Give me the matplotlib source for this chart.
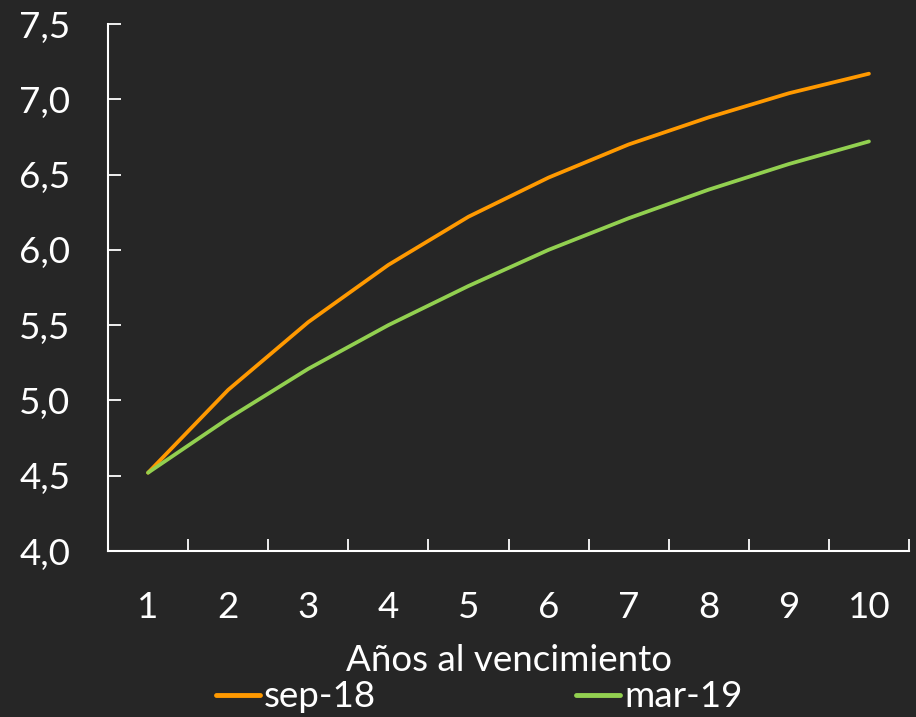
import matplotlib
matplotlib.use("Agg")
import matplotlib.pyplot as plt
from matplotlib.ticker import FixedLocator, FuncFormatter

years = [1, 2, 3, 4, 5, 6, 7, 8, 9, 10]
sep18 = [4.52, 5.07, 5.52, 5.90, 6.22, 6.48, 6.70, 6.88, 7.04, 7.17]
mar19 = [4.52, 4.88, 5.21, 5.50, 5.76, 6.00, 6.21, 6.40, 6.57, 6.72]
yticks = [4.0, 4.5, 5.0, 5.5, 6.0, 6.5, 7.0, 7.5]
xlabel = "Años al vencimiento"
series_names = ["sep-18", "mar-19"]

BG = "#262626"
FG = "white"
FS = 26.5
plt.rcParams['font.family'] = ['Lato', 'DejaVu Sans']

fig = plt.figure(figsize=(9.16, 7.17), dpi=100, facecolor=BG)
ax = fig.add_axes([108/916, 166/717, (909-108)/916, (551-24)/717])
ax.set_facecolor(BG)

ax.plot(years, sep18, color="#FF9900", lw=2.7, solid_capstyle="round", label=series_names[0])
ax.plot(years, mar19, color="#92D050", lw=2.7, solid_capstyle="round", label=series_names[1])

ax.set_xlim(0.5, 10.5)
ax.set_ylim(4.0, 7.5)
ax.set_yticks(yticks)
ax.yaxis.set_major_formatter(FuncFormatter(lambda v, p: f"{v:.1f}".replace(".", ",")))

ax.xaxis.set_major_locator(FixedLocator([x + 0.5 for x in range(0, 11)]))
ax.xaxis.set_major_formatter(FuncFormatter(lambda v, p: ""))
ax.xaxis.set_minor_locator(FixedLocator(years))
ax.xaxis.set_minor_formatter(FuncFormatter(lambda v, p: f"{int(v)}"))

ax.tick_params(axis='x', which='major', direction='in', length=9, width=1.3, colors=FG)
ax.tick_params(axis='x', which='minor', length=0, pad=29, labelsize=FS, labelcolor=FG)
ax.tick_params(axis='y', which='major', direction='in', length=9, width=1.3, colors=FG,
               labelsize=FS, pad=27)

for s in ['top', 'right']:
    ax.spines[s].set_visible(False)
for s in ['left', 'bottom']:
    ax.spines[s].set_color(FG)
    ax.spines[s].set_linewidth(1.5)

ax.set_xlabel(xlabel, fontsize=FS, color=FG, labelpad=14)

leg = fig.legend(loc='center', bbox_to_anchor=(0.523, 0.028), ncol=2, frameon=False,
                 fontsize=FS, handlelength=1.2, handletextpad=0.1, columnspacing=5.45,
                 labelcolor=FG)
for line in leg.get_lines():
    line.set_linewidth(3.5)

fig.savefig("out.png", dpi=100, facecolor=BG)
